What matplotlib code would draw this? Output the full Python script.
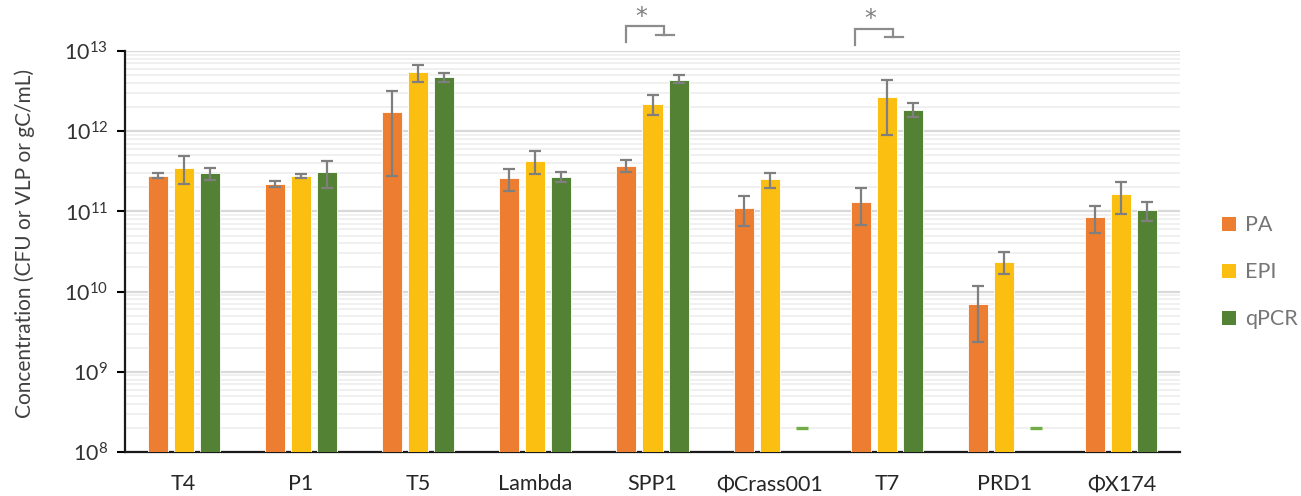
import numpy as np
import matplotlib
matplotlib.use("Agg")
import matplotlib.pyplot as plt
from matplotlib.patches import Patch
from matplotlib.ticker import LogLocator, NullFormatter
import matplotlib.transforms as mtransforms

plt.rcParams["font.family"] = ["Lato", "DejaVu Sans"]
plt.rcParams["mathtext.fontset"] = "custom"
plt.rcParams["mathtext.rm"] = "Lato"

# ---- data ----
phages = ["T4", "P1", "T5", "Lambda", "SPP1", "ΦCrass001", "T7", "PRD1", "ΦX174"]
series = ["PA", "EPI", "qPCR"]

pa_mean = [2.8e11, 2.2e11, 1.72e12, 2.6e11, 3.7e11, 1.1e11, 1.3e11, 7.0e9, 8.4e10]
pa_low = [2.6e11, 2.0e11, 2.8e11, 1.8e11, 3.1e11, 6.5e10, 6.7e10, 2.36e9, 5.4e10]
pa_high = [3.04e11, 2.4e11, 3.2e12, 3.4e11, 4.4e11, 1.57e11, 1.94e11, 1.17e10, 1.16e11]

epi_mean = [3.5e11, 2.8e11, 5.4e12, 4.3e11, 2.16e12, 2.5e11, 2.67e12, 2.36e10, 1.63e11]
epi_low = [2.2e11, 2.6e11, 4.1e12, 2.95e11, 1.59e12, 1.96e11, 9.0e11, 1.64e10, 9.4e10]
epi_high = [4.9e11, 2.95e11, 6.7e12, 5.6e11, 2.8e12, 3.04e11, 4.4e12, 3.1e10, 2.33e11]

qpcr_mean = [3.0e11, 3.1e11, 4.7e12, 2.7e11, 4.4e12, np.nan, 1.85e12, np.nan, 1.03e11]
qpcr_low = [2.45e11, 1.95e11, 4.15e12, 2.35e11, 4.0e12, np.nan, 1.5e12, np.nan, 7.7e10]
qpcr_high = [3.5e11, 4.3e11, 5.3e12, 3.1e11, 5.0e12, np.nan, 2.23e12, np.nan, 1.32e11]

# qPCR not detected: marked with a short dash
qpcr_nd_level = 2e8

# significance brackets: (group, label)
signif = [("SPP1", "*"), ("T7", "*")]

colors = {"PA": "#ED7D31", "EPI": "#FBBF12", "qPCR": "#548235"}
err_color = "#7F7F7F"

# ---- figure ----
fig = plt.figure(figsize=(13.01, 4.96), dpi=100)
ax = fig.add_axes([125 / 1301, 1 - 452 / 496, (1180 - 125) / 1301, (452 - 51) / 496])

x = np.arange(len(phages))
bw = 0.171
step = 0.222

all_data = [
    ("PA", pa_mean, pa_low, pa_high),
    ("EPI", epi_mean, epi_low, epi_high),
    ("qPCR", qpcr_mean, qpcr_low, qpcr_high),
]
for k, (name, mean, low, high) in enumerate(all_data):
    mean = np.array(mean, dtype=float)
    low = np.array(low, dtype=float)
    high = np.array(high, dtype=float)
    xs = x + (k - 1) * step
    ax.bar(xs, mean, width=bw, bottom=1e8, color=colors[name], edgecolor="#ffffff",
           linewidth=0.6, zorder=3)
    yerr = np.vstack([mean - low, high - mean])
    ax.errorbar(xs, mean, yerr=yerr, fmt="none", ecolor=err_color, elinewidth=1.6,
                capsize=4.3, capthick=1.6, zorder=4)

# non-detected qPCR dashes
nd = np.isnan(np.array(qpcr_mean, dtype=float))
ax.plot(x[nd] + step + 0.05, np.full(nd.sum(), qpcr_nd_level), linestyle="none",
        marker="_", markersize=8.5, markeredgewidth=2.4, color="#70AD47", zorder=4)

ax.set_yscale("log")
ax.set_ylim(1e8, 1e13)
ax.set_xlim(-0.5, len(phages) - 0.5)

ax.yaxis.set_minor_locator(LogLocator(base=10, subs=np.arange(2, 10), numticks=20))
ax.yaxis.set_minor_formatter(NullFormatter())
ax.set_yticks([10.0 ** e for e in range(8, 14)])
ax.set_yticklabels([r"$\mathregular{10^{%d}}$" % e for e in range(8, 14)])

ax.grid(which="major", axis="y", color="#D9D9D9", linewidth=1.6, zorder=0)
ax.grid(which="minor", axis="y", color="#EFEFEF", linewidth=1.3, zorder=0)
ax.set_axisbelow(True)

ax.set_xticks(x)
ax.set_xticklabels(phages, fontsize=15.5, color="#262626")
ax.tick_params(axis="x", length=0, pad=16)
ax.tick_params(axis="y", which="major", length=6, width=1.5, direction="out",
               labelsize=15.5, labelcolor="#333333", pad=6)
ax.tick_params(axis="y", which="minor", length=0)

for s in ["top", "right"]:
    ax.spines[s].set_visible(False)
for s in ["left", "bottom"]:
    ax.spines[s].set_linewidth(1.6)
    ax.spines[s].set_color("#1a1a1a")

ax.set_ylabel("Concentration (CFU or VLP or gC/mL)", fontsize=15, color="#404040")
ax.yaxis.set_label_coords(-0.085, 0.52)

# significance brackets above the axes
trans = mtransforms.blended_transform_factory(ax.transData, ax.transAxes)
bracket_shapes = {
    "SPP1": dict(left=-0.226, right=0.098, foot_l=0.03, foot_r=0.183,
                 y0=1.023, ytop=1.063, yfoot=1.041, ystar=1.055),
    "T7": dict(left=-0.272, right=0.053, foot_l=-0.013, foot_r=0.138,
               y0=1.016, ytop=1.056, yfoot=1.036, ystar=1.049),
}
for name, lab in signif:
    i = phages.index(name)
    b = bracket_shapes[name]
    xl, xr = i + b["left"], i + b["right"]
    ax.plot([xl, xl, xr, xr], [b["y0"], b["ytop"], b["ytop"], b["yfoot"]],
            transform=trans, color="#8C8C8C", linewidth=1.6, clip_on=False,
            solid_joinstyle="miter")
    ax.plot([i + b["foot_l"], i + b["foot_r"]], [b["yfoot"], b["yfoot"]],
            transform=trans, color="#8C8C8C", linewidth=1.6, clip_on=False)
    ax.text((xl + xr) / 2 - 0.03, b["ystar"], lab, transform=trans, ha="center",
            va="bottom", fontsize=17, color="#7F7F7F", family="DejaVu Sans")

handles = [Patch(facecolor=colors[s], edgecolor="none") for s in series]
fig.legend(handles, series, loc="upper left", bbox_to_anchor=(1203 / 1301, 1 - 196 / 496),
           frameon=False, fontsize=15.5, labelcolor="#767676", handlelength=0.62,
           handleheight=0.62, handletextpad=0.45, labelspacing=1.25)

fig.savefig("out.png", dpi=100, facecolor="white")
